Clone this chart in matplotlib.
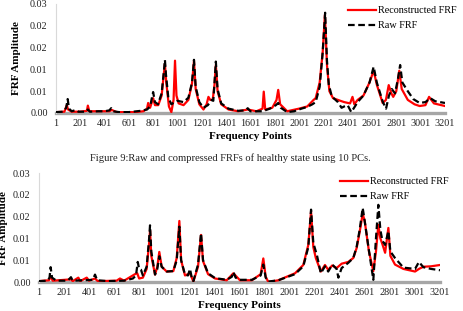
import matplotlib
matplotlib.use("Agg")
import matplotlib.pyplot as plt

plt.rcParams['font.family'] = ['Liberation Serif', 'DejaVu Serif']

# ---- data ----
# top panel: raw FRF (black dashed)
top_raw_x = [1, 60, 85, 97, 108, 130, 166, 185, 250, 263, 280, 350, 400, 440, 455, 470, 520, 600,
             700, 750, 775, 800, 815, 840, 870, 890, 897, 905, 925, 950, 975, 1000, 1050, 1090,
             1120, 1136, 1150, 1180, 1214, 1250, 1282, 1295, 1305, 1316, 1330, 1360, 1420, 1500,
             1560, 1578, 1600, 1700, 1760, 1810, 1829, 1850, 1903, 1960, 2020, 2068, 2110, 2137,
             2170, 2195, 2215, 2230, 2245, 2270, 2320, 2350, 2372, 2400, 2430, 2460, 2482, 2530,
             2580, 2614, 2640, 2690, 2716, 2740, 2763, 2790, 2815, 2832, 2850, 2895, 2940, 2992,
             3040, 3080, 3120, 3201]
top_raw_y = [0.0002, 0.0003, 0.0012, 0.0032, 0.0010, 0.0004, 0.0007, 0.0003, 0.0003, 0.0008, 0.0003,
             0.0004, 0.0004, 0.0006, 0.0011, 0.0004, 0.0002, 0.0002, 0.0005, 0.0008, 0.0015, 0.0048,
             0.0025, 0.0020, 0.0045, 0.0100, 0.0122, 0.0090, 0.0035, 0.0020, 0.0025, 0.0028, 0.0025,
             0.0035, 0.0070, 0.0122, 0.0060, 0.0025, 0.0012, 0.0018, 0.0030, 0.0028, 0.0070, 0.0118,
             0.0055, 0.0022, 0.0010, 0.0005, 0.0006, 0.0011, 0.0004, 0.0004, 0.0010, 0.0018, 0.0023,
             0.0012, 0.0002, 0.0004, 0.0010, 0.0014, 0.0020, 0.0025, 0.0060, 0.0140, 0.0230, 0.0120,
             0.0065, 0.0038, 0.0025, 0.0012, 0.0015, 0.0018, 0.0002, 0.0015, 0.0025, 0.0040, 0.0070,
             0.0106, 0.0070, 0.0025, 0.0010, 0.0040, 0.0055, 0.0045, 0.0080, 0.0110, 0.0070, 0.0050,
             0.0032, 0.0023, 0.0025, 0.0034, 0.0027, 0.0023]

# top panel: reconstructed FRF (red)
top_rec_x = [1, 70, 90, 100, 130, 200, 255, 263, 275, 350, 440, 460, 500, 650, 720, 750, 759, 775,
             800, 815, 842, 870, 890, 897, 908, 930, 950, 968, 980, 992, 1010, 1050, 1090, 1120,
             1136, 1150, 1180, 1214, 1240, 1255, 1270, 1290, 1305, 1316, 1330, 1360, 1420, 1500,
             1578, 1650, 1700, 1710, 1722, 1780, 1815, 1829, 1845, 1903, 2000, 2068, 2120, 2137,
             2170, 2195, 2213, 2230, 2250, 2280, 2340, 2372, 2420, 2440, 2455, 2482, 2530, 2580,
             2614, 2640, 2688, 2715, 2738, 2760, 2775, 2800, 2825, 2845, 2895, 2950, 2992, 3040,
             3070, 3110, 3201]
top_rec_y = [0.0002, 0.0003, 0.0018, 0.0008, 0.0003, 0.0003, 0.0005, 0.0017, 0.0004, 0.0004, 0.0004,
             0.0007, 0.0002, 0.0002, 0.0004, 0.0010, 0.0023, 0.0012, 0.0034, 0.0018, 0.0018, 0.0040,
             0.0095, 0.0112, 0.0070, 0.0015, 0.0002, 0.0030, 0.0120, 0.0040, 0.0022, 0.0018, 0.0030,
             0.0068, 0.0120, 0.0055, 0.0020, 0.0008, 0.0020, 0.0037, 0.0030, 0.0030, 0.0065, 0.0110,
             0.0050, 0.0020, 0.0008, 0.0004, 0.0008, 0.0004, 0.0010, 0.0049, 0.0008, 0.0012, 0.0030,
             0.0053, 0.0020, 0.0004, 0.0010, 0.0015, 0.0030, 0.0034, 0.0070, 0.0140, 0.0225, 0.0110,
             0.0050, 0.0034, 0.0028, 0.0025, 0.0022, 0.0037, 0.0020, 0.0030, 0.0040, 0.0070, 0.0097,
             0.0065, 0.0023, 0.0030, 0.0064, 0.0045, 0.0037, 0.0050, 0.0097, 0.0055, 0.0030, 0.0020,
             0.0016, 0.0018, 0.0037, 0.0022, 0.0016]

# bottom panel: raw FRF (black dashed)
bot_raw_x = [1, 70, 85, 94, 105, 140, 230, 256, 270, 360, 430, 448, 465, 550, 680, 750, 775, 789,
             800, 815, 830, 860, 880, 887, 897, 927, 945, 961, 980, 1020, 1073, 1100, 1121, 1135,
             1166, 1190, 1206, 1220, 1233, 1270, 1294, 1310, 1350, 1406, 1499, 1540, 1552, 1570,
             1605, 1700, 1770, 1791, 1810, 1831, 1911, 2044, 2110, 2150, 2172, 2190, 2204, 2220,
             2250, 2283, 2309, 2341, 2376, 2390, 2416, 2469, 2509, 2536, 2560, 2584, 2600, 2634,
             2669, 2690, 2709, 2725, 2741, 2763, 2789, 2805, 2842, 2909, 3002, 3033, 3068, 3130,
             3201]
bot_raw_y = [0.0002, 0.0003, 0.0010, 0.0034, 0.0010, 0.0003, 0.0003, 0.0011, 0.0003, 0.0004, 0.0005,
             0.0017, 0.0004, 0.0002, 0.0003, 0.0008, 0.0015, 0.0046, 0.0030, 0.0028, 0.0015, 0.0035,
             0.0100, 0.0130, 0.0070, 0.0017, 0.0030, 0.0059, 0.0035, 0.0024, 0.0025, 0.0050, 0.0127,
             0.0050, 0.0017, 0.0015, 0.0030, 0.0010, 0.0002, 0.0040, 0.0112, 0.0050, 0.0020, 0.0009,
             0.0005, 0.0012, 0.0023, 0.0010, 0.0005, 0.0005, 0.0015, 0.0040, 0.0010, 0.0001, 0.0004,
             0.0018, 0.0036, 0.0080, 0.0166, 0.0090, 0.0076, 0.0060, 0.0020, 0.0036, 0.0024, 0.0040,
             0.0030, 0.0010, 0.0032, 0.0044, 0.0055, 0.0081, 0.0120, 0.0170, 0.0140, 0.0072, 0.0005,
             0.0100, 0.0177, 0.0120, 0.0095, 0.0085, 0.0117, 0.0070, 0.0055, 0.0033, 0.0030, 0.0046,
             0.0034, 0.0030, 0.0027]

# bottom panel: reconstructed FRF (red)
bot_rec_x = [1, 80, 94, 110, 256, 270, 315, 330, 382, 400, 448, 470, 620, 647, 680, 767, 785, 800,
             830, 860, 880, 887, 897, 927, 945, 961, 980, 1020, 1073, 1100, 1121, 1135, 1166, 1206,
             1233, 1270, 1294, 1310, 1350, 1406, 1499, 1552, 1605, 1700, 1770, 1791, 1810, 1831,
             1911, 2044, 2110, 2150, 2172, 2190, 2210, 2250, 2283, 2309, 2341, 2376, 2416, 2469,
             2509, 2536, 2560, 2584, 2600, 2634, 2669, 2690, 2709, 2725, 2741, 2763, 2789, 2805,
             2842, 2909, 3002, 3033, 3068, 3130, 3201]
bot_rec_y = [0.0002, 0.0004, 0.0013, 0.0003, 0.0006, 0.0002, 0.0010, 0.0002, 0.0010, 0.0003, 0.0008,
             0.0002, 0.0003, 0.0008, 0.0003, 0.0018, 0.0020, 0.0008, 0.0010, 0.0030, 0.0090, 0.0118,
             0.0060, 0.0017, 0.0035, 0.0069, 0.0035, 0.0024, 0.0025, 0.0055, 0.0140, 0.0050, 0.0015,
             0.0020, 0.0001, 0.0035, 0.0108, 0.0048, 0.0018, 0.0008, 0.0004, 0.0020, 0.0004, 0.0004,
             0.0018, 0.0054, 0.0012, 0.0000, 0.0004, 0.0020, 0.0039, 0.0085, 0.0162, 0.0080, 0.0055,
             0.0024, 0.0039, 0.0028, 0.0038, 0.0032, 0.0042, 0.0046, 0.0055, 0.0078, 0.0115, 0.0156,
             0.0140, 0.0070, 0.0025, 0.0070, 0.0131, 0.0100, 0.0087, 0.0067, 0.0124, 0.0060, 0.0040,
             0.0030, 0.0024, 0.0030, 0.0035, 0.0036, 0.0039]

x_ticks = list(range(1, 3202, 200))
y_ticks = [0.0, 0.005, 0.010, 0.015, 0.020, 0.025]
y_tick_labels = ['0.00', '0.01', '0.01', '0.02', '0.02', '0.03']
caption = 'Figure 9:Raw and compressed FRFs of healthy state using 10 PCs.'

W, H = 464, 311
fig = plt.figure(figsize=(W / 100, H / 100), dpi=100)


def px_axes(l, t, r, b):
    return fig.add_axes([l / W, 1 - b / H, (r - l) / W, (b - t) / H])


def style(ax, rec_x, rec_y, raw_x, raw_y, ylab_xy, leg_xy):
    ax.plot(rec_x, rec_y, color='#ff0000', lw=1.6, label='Reconstructed FRF', zorder=2)
    ax.plot(raw_x, raw_y, color='black', lw=1.6, ls=(0, (3, 1.6)), label='Raw FRF', zorder=3)
    ax.set_xlim(1, 3201)
    ax.set_ylim(0, 0.025)
    ax.set_xticks(x_ticks)
    ax.set_yticks(y_ticks)
    ax.set_yticklabels(y_tick_labels)
    ax.tick_params(length=0, labelsize=7.3, colors='#222222')
    ax.tick_params(axis='x', pad=4)
    ax.tick_params(axis='y', pad=6)
    for s in ['top', 'right']:
        ax.spines[s].set_visible(False)
    ax.spines['left'].set_color('#d9d9d9')
    ax.spines['left'].set_linewidth(0.8)
    ax.spines['bottom'].set_color('#a6a6a6')
    ax.spines['bottom'].set_linewidth(2.4)
    ax.spines['bottom'].set_zorder(1)
    ax.set_xlabel('Frequency Points', fontsize=8, fontweight='bold', labelpad=3)
    ax.set_ylabel('FRF Amplitude', fontsize=8, fontweight='bold')
    ax.yaxis.set_label_coords(ylab_xy[0] / W, 1 - ylab_xy[1] / H, transform=fig.transFigure)
    ax.legend(loc='upper left', bbox_to_anchor=(leg_xy[0] / W, 1 - leg_xy[1] / H),
              bbox_transform=fig.transFigure, frameon=False, fontsize=7.3,
              handlelength=2.8, handletextpad=0.2, labelspacing=0.6, borderpad=0,
              borderaxespad=0)


ax1 = px_axes(56, 4, 445, 113)
style(ax1, top_rec_x, top_rec_y, top_raw_x, top_raw_y, (21, 58), (348, 6))

ax2 = px_axes(39, 173, 440, 282)
style(ax2, bot_rec_x, bot_rec_y, bot_raw_x, bot_raw_y, (8, 228), (340, 177))

fig.text(230 / W, 1 - 158 / H, caption, ha='center', va='center', fontsize=7.6, color='#222222')

fig.savefig('out.png', dpi=100)
